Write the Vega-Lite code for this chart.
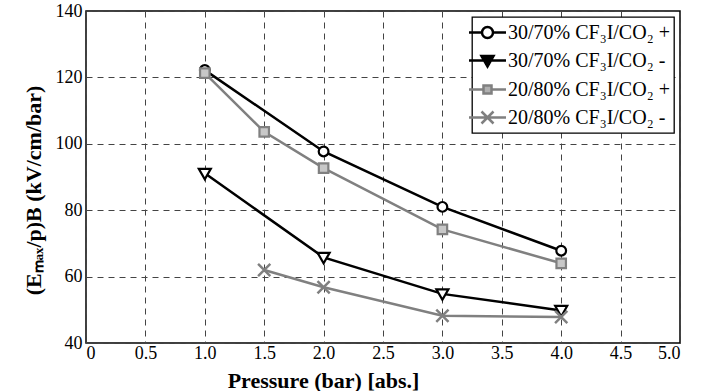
{
  "$schema": "https://vega.github.io/schema/vega-lite/v6.json",
  "width": 594,
  "height": 332,
  "autosize": "none",
  "padding": {"left": 86, "top": 11, "right": 26, "bottom": 48},
  "background": "white",
  "config": {
    "font": "Liberation Serif",
    "view": {"stroke": "black", "strokeWidth": 1.5},
    "axis": {
      "labelFont": "Liberation Serif",
      "labelFontSize": 18,
      "labelColor": "black",
      "titleFont": "Liberation Serif",
      "titleFontSize": 22,
      "titleFontWeight": "bold",
      "titleColor": "black",
      "grid": true,
      "gridColor": "#444444",
      "gridDash": [6, 5],
      "gridWidth": 1,
      "gridOpacity": 1,
      "domain": false,
      "ticks": false
    },
    "legend": {
      "orient": "top-right",
      "offset": 6,
      "padding": 4,
      "fillColor": "white",
      "strokeColor": "black",
      "strokeWidth": 1.3,
      "labelFont": "Liberation Serif",
      "labelFontSize": 20,
      "labelColor": "black",
      "labelLimit": 400,
      "symbolSize": 400,
      "symbolStrokeWidth": 2.5,
      "rowPadding": 6,
      "labelOffset": 9
    }
  },
  "data": {
    "values": [
      {"series": "30/70% CF₃I/CO₂ +", "p": 1.0, "E": 122.2},
      {"series": "30/70% CF₃I/CO₂ +", "p": 2.0, "E": 97.7},
      {"series": "30/70% CF₃I/CO₂ +", "p": 3.0, "E": 81.0},
      {"series": "30/70% CF₃I/CO₂ +", "p": 4.0, "E": 67.8},
      {"series": "30/70% CF₃I/CO₂ -", "p": 1.0, "E": 91.1},
      {"series": "30/70% CF₃I/CO₂ -", "p": 2.0, "E": 65.8},
      {"series": "30/70% CF₃I/CO₂ -", "p": 3.0, "E": 54.8},
      {"series": "30/70% CF₃I/CO₂ -", "p": 4.0, "E": 49.8},
      {"series": "20/80% CF₃I/CO₂ +", "p": 1.0, "E": 121.3},
      {"series": "20/80% CF₃I/CO₂ +", "p": 1.5, "E": 103.6},
      {"series": "20/80% CF₃I/CO₂ +", "p": 2.0, "E": 92.7},
      {"series": "20/80% CF₃I/CO₂ +", "p": 3.0, "E": 74.2},
      {"series": "20/80% CF₃I/CO₂ +", "p": 4.0, "E": 64.0},
      {"series": "20/80% CF₃I/CO₂ -", "p": 1.5, "E": 62.0},
      {"series": "20/80% CF₃I/CO₂ -", "p": 2.0, "E": 56.8},
      {"series": "20/80% CF₃I/CO₂ -", "p": 3.0, "E": 48.2},
      {"series": "20/80% CF₃I/CO₂ -", "p": 4.0, "E": 47.8}
    ]
  },
  "encoding": {
    "x": {
      "field": "p",
      "type": "quantitative",
      "scale": {"domain": [0, 5], "nice": false, "zero": false},
      "axis": {
        "values": [0, 0.5, 1, 1.5, 2, 2.5, 3, 3.5, 4, 4.5, 5],
        "labelExpr": "datum.value == 0 ? '0' : format(datum.value, '.1f')",
        "labelFont": "Liberation Serif",
        "labelPadding": 1,
        "labelBaseline": "top",
        "title": "Pressure (bar) [abs.]",
        "titleFont": "Liberation Serif",
        "titleX": 237,
        "titleY": 44,
        "titleBaseline": "alphabetic",
        "titleAnchor": null
      }
    },
    "y": {
      "field": "E",
      "type": "quantitative",
      "scale": {"domain": [40, 140], "nice": false, "zero": false},
      "axis": {
        "values": [40, 60, 80, 100, 120, 140],
        "labelFont": "Liberation Serif",
        "labelPadding": 4,
        "title": "(Eₘₐₓ/p)B  (kV/cm/bar)",
        "titleFont": "Liberation Serif",
        "titleX": -53,
        "titleY": 179,
        "titleAngle": -90,
        "titleAlign": "center",
        "titleBaseline": "middle",
        "titleAnchor": null
      }
    }
  },
  "layer": [
    {
      "mark": {"type": "line", "strokeWidth": 2.5},
      "encoding": {
        "color": {
          "field": "series",
          "type": "nominal",
          "scale": {
            "domain": ["30/70% CF₃I/CO₂ +", "30/70% CF₃I/CO₂ -", "20/80% CF₃I/CO₂ +", "20/80% CF₃I/CO₂ -"],
            "range": ["black", "black", "#808080", "#808080"]
          },
          "legend": {
            "title": null,
            "labelFont": "Liberation Serif",
            "encode": {
              "symbols": {
                "update": {
                  "shape": {"signal": "datum.value == '30/70% CF₃I/CO₂ +' ? 'M-1.85,0H-0.55M0.55,0H1.85M0.55,0A0.55,0.55,0,1,1,-0.55,0A0.55,0.55,0,1,1,0.55,0' : datum.value == '30/70% CF₃I/CO₂ -' ? 'M-1.85,0H1.85M-0.6,-0.45L0.6,-0.45L0,0.6Z' : datum.value == '20/80% CF₃I/CO₂ +' ? 'M-1.85,0H-0.4M0.4,0H1.85M-0.4,-0.4H0.4V0.4H-0.4Z' : 'M-1.85,0H1.85M-0.6,-0.6L0.6,0.6M-0.6,0.6L0.6,-0.6'"},
                  "fill": {"signal": "datum.value == '30/70% CF₃I/CO₂ -' ? 'black' : datum.value == '20/80% CF₃I/CO₂ +' ? '#b0b0b0' : 'white'"},
                  "fillOpacity": {"value": 1},
                  "strokeWidth": {"value": 2.5},
                  "opacity": {"value": 1}
                }
              }
            }
          }
        }
      }
    },
    {
      "transform": [{"filter": "datum.series == '30/70% CF₃I/CO₂ +'"}],
      "mark": {"type": "point", "shape": "circle", "size": 95, "filled": false, "fill": "white", "stroke": "black", "strokeWidth": 2.2, "opacity": 1, "fillOpacity": 1}
    },
    {
      "transform": [{"filter": "datum.series == '30/70% CF₃I/CO₂ -'"}],
      "mark": {"type": "point", "shape": "M-1,-0.75L1,-0.75L0,1Z", "size": 144, "filled": false, "fill": "white", "stroke": "black", "strokeWidth": 2.2, "opacity": 1, "fillOpacity": 1}
    },
    {
      "transform": [{"filter": "datum.series == '20/80% CF₃I/CO₂ +'"}],
      "mark": {"type": "point", "shape": "M-1,-1H1V1H-1Z", "size": 90, "filled": false, "fill": "#c8c8c8", "stroke": "#808080", "strokeWidth": 2.2, "opacity": 1, "fillOpacity": 1}
    },
    {
      "transform": [{"filter": "datum.series == '20/80% CF₃I/CO₂ -'"}],
      "mark": {"type": "point", "shape": "M-1,-1L1,1M-1,1L1,-1", "size": 150, "filled": false, "stroke": "#808080", "strokeWidth": 2.5, "opacity": 1}
    }
  ]
}
